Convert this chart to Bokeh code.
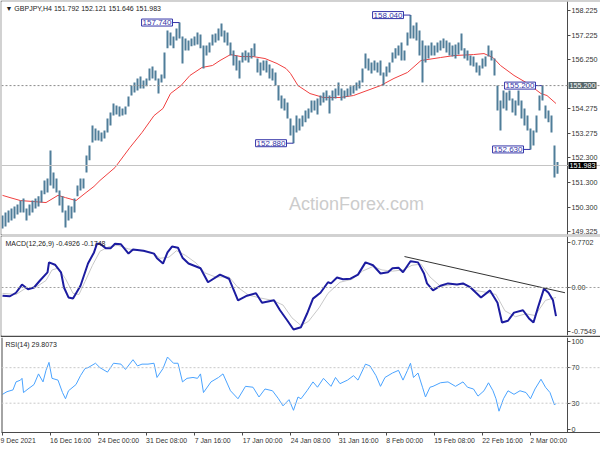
from bokeh.plotting import figure
from bokeh.layouts import column
from bokeh.models import Range1d, FixedTicker, Label, Span
from bokeh.embed import file_html
from bokeh.resources import INLINE

# ---------------- data ----------------
bar_pos = list(range(0, 372, 2))
highs = [149.97,150.09,150.17,150.25,150.33,150.41,150.57,150.65,150.25,150.41,
         150.57,150.65,150.74,150.98,151.38,151.46,152.59,151.70,151.46,150.98,
         150.74,150.17,150.37,150.33,150.65,151.18,151.46,151.46,152.39,152.79,
         153.59,153.47,153.39,153.31,153.39,153.88,154.12,154.48,154.40,154.36,
         154.28,154.36,154.76,155.20,155.33,155.49,155.57,155.41,155.49,155.89,
         155.97,155.81,155.49,155.65,156.53,157.42,157.34,157.18,157.50,157.74,
         157.18,157.10,157.02,157.10,157.18,157.34,157.26,156.82,156.82,156.94,
         157.26,157.30,157.50,157.70,157.42,157.34,156.94,156.61,156.41,156.21,
         156.53,156.61,156.53,156.70,156.90,156.29,156.13,156.21,156.21,156.05,
         155.89,155.73,155.20,154.80,154.68,154.52,153.88,153.59,154.00,153.88,
         154.00,154.20,154.28,154.60,154.60,154.68,154.80,154.92,155.00,154.80,
         155.00,155.08,155.33,155.08,155.00,155.08,155.17,155.20,155.33,155.41,
         155.89,156.49,156.29,156.13,156.21,156.13,156.21,155.73,155.97,156.13,
         156.53,156.70,156.82,156.94,156.61,157.34,158.04,157.62,157.74,157.42,
         157.02,156.82,156.82,156.94,156.82,156.94,157.02,157.10,157.02,156.94,
         156.82,156.86,156.94,157.30,156.70,156.61,156.41,156.37,156.13,156.01,
         156.29,156.37,156.82,156.61,156.29,155.20,154.60,155.00,154.92,155.00,
         154.68,154.60,155.00,154.60,154.28,154.00,153.47,153.39,154.00,154.80,
         155.20,154.40,154.20,154.00,152.79,152.121]
lows = [149.45,149.53,149.69,149.77,149.85,150.01,150.09,150.09,149.77,149.97,
        150.09,150.25,150.33,150.49,150.82,150.90,151.18,151.06,150.90,150.37,
        150.09,149.49,149.77,149.85,150.09,150.74,150.98,151.06,151.70,152.19,
        152.91,152.99,152.99,152.95,153.07,153.31,153.59,154.00,154.04,153.96,
        154.00,154.04,154.36,154.80,154.92,155.00,155.08,155.08,155.17,155.41,
        155.49,155.41,154.88,155.33,155.49,156.70,156.82,156.70,157.02,157.10,
        156.09,156.61,156.61,156.78,156.82,156.86,156.70,155.89,156.41,156.53,
        156.82,156.94,157.02,157.18,156.94,156.82,156.41,156.01,155.81,155.49,
        156.13,156.21,156.13,156.29,156.37,155.73,155.61,155.81,155.73,155.49,
        155.41,155.20,154.60,154.28,154.20,153.88,153.19,152.88,153.31,153.39,
        153.55,153.72,153.88,154.12,154.20,154.04,154.40,154.52,154.60,154.08,
        154.60,154.68,154.80,154.60,154.68,154.76,154.80,154.88,155.00,155.08,
        155.33,155.89,155.81,155.69,155.81,155.73,155.61,155.20,155.57,155.73,
        156.13,156.29,156.41,156.21,156.21,156.82,157.10,157.10,157.02,156.41,
        155.33,156.13,156.29,156.41,156.41,156.53,156.61,156.70,156.53,156.41,
        156.37,156.29,156.45,156.61,156.29,156.21,156.01,155.97,155.73,155.61,
        155.89,155.97,156.37,156.21,155.61,154.20,153.39,154.28,154.20,154.60,
        154.12,154.00,154.40,153.88,153.59,153.39,152.63,152.79,153.31,154.20,
        154.60,153.88,153.72,153.31,151.50,151.646]

ma_pos = [0,5,12,21,29,37,42,49,55,61,65,75,85,93,101,107,112,119,125,133,
          140,145,152,159,167,175,183,189,192,197,205,214,225,234,243,252,261,270,279,292,
          301,314,321,327,332,341,350,359,363,369]
ma_val = [150.78,150.69,150.57,150.53,150.49,150.78,150.69,150.57,150.86,151.14,
          151.38,151.90,152.71,153.31,153.99,154.28,154.88,155.20,155.61,155.93,
          156.01,156.21,156.45,156.37,156.37,156.29,156.09,155.89,155.69,155.20,
          154.88,154.72,154.72,154.80,155.00,155.20,155.49,155.73,156.21,156.33,
          156.41,156.45,156.49,156.33,156.01,155.61,155.29,154.88,154.80,154.48]

ann_val = [157.740, 158.040, 155.200, 152.880, 152.630]
ann_bar = [59, 136, 180, 97, 176]

price_ticks = [158.225, 157.225, 156.250, 154.275, 153.275, 152.300, 151.300, 150.300, 149.325]
level_line = 155.200
last_price = 151.983

macd_pos = [0,5,9,13,17,21,25,30,31,35,39,41,44,47,52,57,61,63,65,69,
            72,75,79,84,87,94,101,103,107,110,113,117,120,124,132,137,145,151,157,163,
            169,173,181,185,190,194,199,203,207,212,217,219,223,227,232,237,242,247,252,257,
            260,264,267,272,277,281,283,287,292,297,303,307,312,319,325,330,333,337,341,347,
            351,354,357,361,364,367,369]
macd_val = [-0.14,-0.15,-0.09,0.05,-0.03,0.00,0.12,0.26,0.43,0.39,
            0.26,0.00,-0.17,-0.19,0.03,0.41,0.60,0.75,0.75,0.67,
            0.67,0.75,0.74,0.58,0.65,0.63,0.58,0.50,0.41,0.60,
            0.70,0.68,0.51,0.41,0.33,0.09,0.22,0.15,-0.22,-0.14,
            -0.10,-0.26,-0.22,-0.39,-0.57,-0.72,-0.68,-0.45,-0.19,-0.09,
            0.09,0.07,0.17,0.14,0.15,0.22,0.43,0.38,0.24,0.26,
            0.33,0.34,0.26,0.45,0.43,0.24,0.07,-0.05,0.03,0.07,
            0.05,0.07,0.00,-0.17,-0.05,-0.26,-0.60,-0.57,-0.43,-0.39,
            -0.53,-0.60,-0.34,-0.02,-0.09,-0.22,-0.49]
sig_pos = [0,9,15,22,29,33,37,42,47,51,55,60,65,71,77,84,92,100,105,111,
           116,122,129,135,142,151,157,164,172,180,187,193,199,204,211,217,225,233,240,247,
           253,260,267,273,279,285,292,300,309,315,322,329,335,342,349,355,362,369]
sig_val = [-0.10,-0.12,-0.02,0.00,0.12,0.30,0.33,0.15,-0.10,-0.12,
           0.10,0.38,0.62,0.70,0.72,0.66,0.63,0.60,0.50,0.52,
           0.63,0.55,0.42,0.25,0.18,0.18,0.00,-0.13,-0.18,-0.22,
           -0.30,-0.52,-0.65,-0.58,-0.35,-0.10,0.09,0.14,0.28,0.36,
           0.30,0.28,0.30,0.38,0.40,0.18,0.02,0.05,0.05,-0.05,
           -0.08,-0.12,-0.40,-0.50,-0.45,-0.48,-0.22,-0.17]
trend_pos = [268, 375]
trend_val = [0.53, -0.09]
macd_ticks = [0.7702, 0.0, -0.7549]

rsi_pos = [0,3,7,9,12,13,14,17,21,24,27,29,31,33,37,40,42,44,49,52,
           55,57,62,65,70,74,79,82,87,90,93,97,101,103,107,110,114,117,120,123,
           127,130,132,134,139,144,147,152,157,162,167,171,175,180,184,187,191,194,197,199,
           203,207,210,214,219,222,225,230,234,237,242,245,249,252,255,260,264,267,270,272,
           274,277,280,282,285,287,292,297,302,307,310,314,317,321,324,327,329,331,334,337,
           341,345,349,352,355,359,362,365,368,369]
rsi_val = [40,43,45,54,56,58,42,46,51,63,54,67,76,58,56,42,35,44,51,61,
           69,70,75,70,65,75,74,68,79,72,74,74,75,59,69,82,75,75,54,58,
           59,58,63,42,54,59,63,44,35,49,48,37,46,44,35,27,34,22,37,35,
           44,54,48,58,49,59,52,56,61,56,74,72,61,49,59,64,67,56,67,75,
           59,64,48,37,48,49,53,54,49,54,48,46,38,44,53,44,35,21,35,44,
           40,44,42,35,46,57,48,42,28,29.8]
rsi_ticks = [100, 70, 30, 0]

date_ticks = [0, 32, 64, 96, 128, 160, 192, 224, 256, 288, 320, 352]
date_labels = ["9 Dec 2021", "16 Dec 16:00", "24 Dec 00:00", "31 Dec 08:00", "7 Jan 16:00",
               "17 Jan 00:00", "24 Jan 08:00", "31 Jan 16:00", "8 Feb 00:00", "15 Feb 08:00",
               "22 Feb 16:00", "2 Mar 00:00"]

# ---------------- style ----------------
FONT = "Liberation Sans"
W = 600
AXIS_X = 376.7          # bar-index position of the price scale line
X0, X1 = -0.667, 398.67  # visible window incl. the price-scale strip
BAR_C = "#4f7d99"
ANN_C = "#3434a8"
EDGE = "#4a4a4a"

xr = Range1d(X0, X1)


def mkfig(h, yr, xloc, top, bottom, border):
    p = figure(width=W, height=h, x_range=xr, y_range=yr, output_backend="svg",
               toolbar_location=None, x_axis_location=xloc, y_axis_location="right",
               min_border_left=1, min_border_right=0, min_border_top=top,
               min_border_bottom=bottom)
    p.grid.visible = False
    p.outline_line_color = None
    p.background_fill_color = "white"
    p.border_fill_color = border
    ax = p.yaxis[0]
    ax.fixed_location = AXIS_X
    ax.major_label_text_font = FONT
    ax.major_label_text_font_size = "7.2px"
    ax.major_label_text_color = "#333333"
    ax.axis_line_color = EDGE
    ax.major_tick_line_color = EDGE
    ax.major_tick_out = 3
    ax.major_tick_in = 0
    ax.minor_tick_line_color = None
    ax.major_label_standoff = 1
    return p


# ---- main price panel ----
p1 = mkfig(235, Range1d(149.204, 158.587), None, 1, 1, EDGE)
p1.yaxis.ticker = FixedTicker(ticks=price_ticks)
p1.yaxis.major_label_overrides = {t: f"{t:.3f}" for t in price_ticks}

p1.add_layout(Span(location=level_line, dimension="width", line_color="#8a8a8a",
                   line_dash="2 2", line_width=1))
p1.add_layout(Span(location=last_price, dimension="width", line_color="#c4c4c4",
                   line_width=1))
p1.add_layout(Label(x=236, y=150.45, text="ActionForex.com", text_align="center",
                    text_baseline="middle", text_font=FONT, text_font_size="18px",
                    text_color="#cccccc"))
p1.line(ma_pos, ma_val, line_color="#f04040", line_width=1)
p1.segment(x0=bar_pos, y0=lows, x1=bar_pos, y1=highs, line_color=BAR_C, line_width=2)

for v, b in zip(ann_val, ann_bar):
    bx = bar_pos[b]
    p1.segment(x0=[bx - 4.7], y0=[v], x1=[bx], y1=[v], line_color=ANN_C, line_width=1)
    p1.add_layout(Label(x=bx, y=v, x_offset=-7, text=f"{v:.3f}", text_align="right",
                        text_baseline="middle", text_font=FONT, text_font_size="8px",
                        text_color=ANN_C, background_fill_color="white",
                        border_line_color=ANN_C, border_line_width=1, padding=1))

# boxed price labels on the price scale
p1.add_layout(Label(x=AXIS_X, y=level_line, x_offset=1, text=f"{level_line:.3f}",
                    text_align="left", text_baseline="middle", text_font=FONT,
                    text_font_size="7.2px", text_color="white",
                    background_fill_color="#56676a", padding=1))
p1.add_layout(Label(x=AXIS_X, y=last_price, x_offset=1, text=f"{last_price:.3f}",
                    text_align="left", text_baseline="middle", text_font=FONT,
                    text_font_size="7.2px", text_color="white",
                    background_fill_color="black", padding=1))
p1.add_layout(Label(x=X0, y=158.587, x_offset=4, y_offset=-3,
                    text="\u25bc GBPJPY,H4 151.792 152.121 151.646 151.983",
                    text_baseline="top", text_font=FONT, text_font_size="7px",
                    text_color="#222222"))

# ---- MACD panel ----
p2 = mkfig(102, Range1d(-0.822, 0.873), None, 1, 2, EDGE)
p2.yaxis.ticker = FixedTicker(ticks=macd_ticks)
p2.yaxis.major_label_overrides = {0.7702: "0.7702", 0.0: "0.00", -0.7549: "-0.7549"}
p2.add_layout(Span(location=0, dimension="width", line_color="#a0a0a0",
                   line_dash="2 2", line_width=1))
p2.line(sig_pos, sig_val, line_color="#c8c8c8", line_width=1)
p2.line(macd_pos, macd_val, line_color="#1c1ca0", line_width=2)
p2.line(trend_pos, trend_val, line_color="#333333", line_width=1)
p2.add_layout(Label(x=X0, y=0.873, x_offset=4, y_offset=-3,
                    text="MACD(12,26,9) -0.4926 -0.1748",
                    text_baseline="top", text_font=FONT, text_font_size="7px",
                    text_color="#222222"))

# ---- RSI panel ----
p3 = mkfig(113, Range1d(-3, 104), "below", 0, 18, "white")
p3.yaxis.ticker = FixedTicker(ticks=rsi_ticks)
p3.add_layout(Span(location=X0, dimension="height", line_color=EDGE, line_width=2))
for lv in (70, 30):
    p3.add_layout(Span(location=lv, dimension="width", line_color="#c8c8c8",
                       line_dash="2 2", line_width=1))
p3.line(rsi_pos, rsi_val, line_color="#4aa3ff", line_width=1)
p3.add_layout(Label(x=X0, y=104, x_offset=4, y_offset=-3, text="RSI(14) 29.8073",
                    text_baseline="top", text_font=FONT, text_font_size="7px",
                    text_color="#222222"))

CW = {" ": .278, ":": .278, "D": .722, "J": .5, "F": .611, "M": .833,
      "e": .556, "c": .5, "a": .556, "n": .556, "b": .556, "r": .333}


def start_at_tick(s, first):
    # date labels begin at their tick (as on the MT4 time scale)
    if first:
        return s
    w = sum(CW.get(ch, .556) for ch in s)
    return "\u00a0" * int(round(w / .278)) + s


xa = p3.xaxis[0]
xa.ticker = FixedTicker(ticks=date_ticks)
xa.major_label_overrides = {t: start_at_tick(s, i == 0)
                            for i, (t, s) in enumerate(zip(date_ticks, date_labels))}
xa.major_label_text_font = FONT
xa.major_label_text_font_size = "6.9px"
xa.major_label_text_color = "#333333"
xa.axis_line_color = EDGE
xa.major_tick_line_color = EDGE
xa.major_tick_out = 3
xa.major_tick_in = 0
xa.minor_tick_line_color = None
xa.major_label_standoff = 1

layout = column(p1, p2, p3, spacing=0)
open("out.html", "w").write(file_html(layout, INLINE))
